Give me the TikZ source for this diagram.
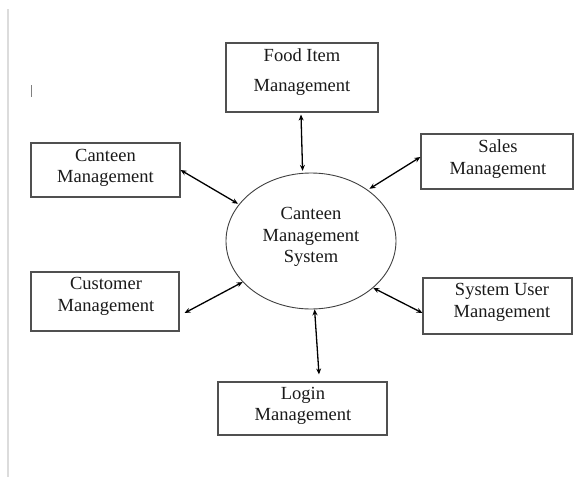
\documentclass[tikz,border=0pt]{standalone}
\usepackage{fontspec}
\setmainfont{Liberation Serif}
\usetikzlibrary{shapes.geometric,arrows.meta}
\definecolor{boxgray}{HTML}{505050}
\definecolor{ellgray}{HTML}{404040}
\definecolor{marginline}{HTML}{DCDCDC}
\definecolor{txt}{HTML}{1A1A1A}
\begin{document}
\begin{tikzpicture}[x=1pt,y=-1pt,
  box/.style={draw=boxgray,line width=1.1pt,inner sep=0pt},
  lbl/.style={align=center,text=txt,font=\fontsize{18.5}{21.5}\selectfont,inner sep=0pt},
  link/.style={{Stealth[length=6pt,width=5pt]}-{Stealth[length=6pt,width=5pt]},line width=1.3pt,black}]
\useasboundingbox[fill=white] (0,0) rectangle (574,477);
% margin marks
\draw[marginline,line width=2.5pt] (8,9) -- (8,477);
\draw[gray,line width=1pt] (31,85) -- (31,97);
% boxes
\node[box,minimum width=152pt,minimum height=69pt] (food) at (302,77.5) {};
\node[box,minimum width=149pt,minimum height=54pt] (canteen) at (105.5,170) {};
\node[box,minimum width=152pt,minimum height=55pt] (sales) at (497,161.5) {};
\node[box,minimum width=148pt,minimum height=59pt] (cust) at (105,301.5) {};
\node[box,minimum width=149pt,minimum height=56pt] (user) at (497.5,306) {};
\node[box,minimum width=169pt,minimum height=53pt] (login) at (302.5,408.5) {};
\node[ellipse,draw=ellgray,line width=0.9pt,minimum width=170pt,minimum height=136pt,inner sep=0pt] (sys) at (311,241) {};
% labels
\node[lbl] (foodtxt) at (302,72) {Food Item\\[8.5pt]Management};
\node[lbl] (canteentxt) at (105.5,168) {Canteen\\Management};
\node[lbl] (salestxt) at (498,159) {Sales\\Management};
\node[lbl] (custtxt) at (106,296.5) {Customer\\Management};
\node[lbl] (usertxt) at (502,302.5) {System User\\Management};
\node[lbl] (logintxt) at (303,406) {Login\\Management};
\node[lbl] (systxt) at (311,237) {Canteen\\Management\\System};
% connectors
\draw[link,shorten >=2pt] ([xshift=-1pt,yshift=-2pt]food.south) -- (sys.97);
\draw[link,shorten >=1pt] (canteen.east) -- (sys.153);
\draw[link,shorten >=2pt] ([yshift=4.5pt]sales.west) -- (sys.42);
\draw[link] ([xshift=5pt,yshift=-11.5pt]cust.east) -- (sys.211);
\draw[link] ([yshift=-7pt]user.west) -- (sys.-37);
\draw[link] (sys.-87) -- ([xshift=16.5pt,yshift=7pt]login.north);
\end{tikzpicture}
\end{document}
